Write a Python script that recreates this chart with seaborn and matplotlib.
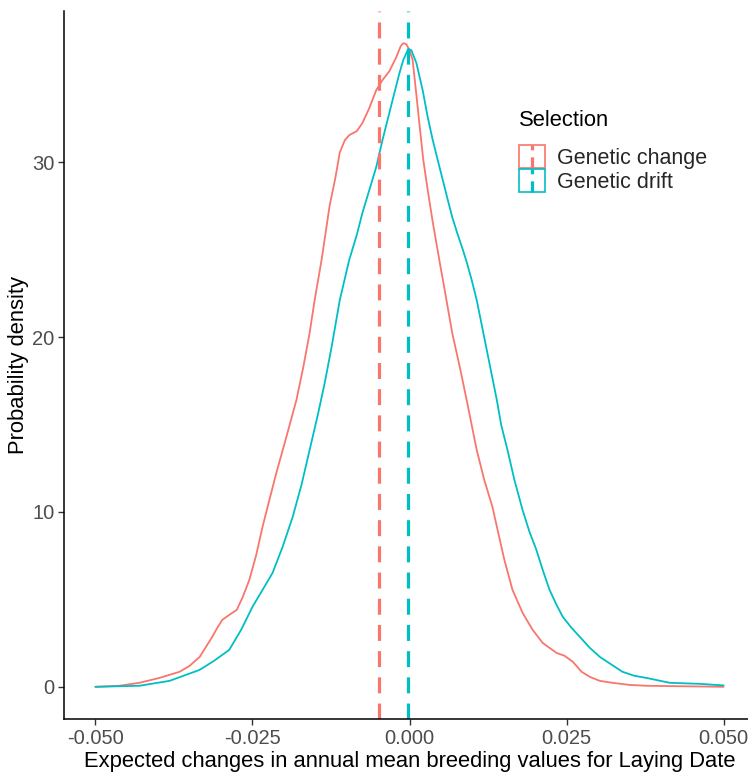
import numpy as np
import pandas as pd
import matplotlib
matplotlib.use("Agg")
import matplotlib.pyplot as plt
import seaborn as sns
from matplotlib.legend_handler import HandlerBase
from matplotlib.patches import Rectangle
from matplotlib.lines import Line2D

# ---- data ----
groups = ["Genetic change", "Genetic drift"]
colors = ["#F8766D", "#00BFC4"]
means = [-0.0048, -0.0002]

change_x = [-0.0500, -0.0462, -0.0430, -0.0398, -0.0366, -0.0350, -0.0334, -0.0315, -0.0306,
            -0.0298, -0.0287, -0.0275, -0.0266, -0.0255, -0.0244, -0.0234, -0.0223, -0.0212,
            -0.0196, -0.0180, -0.0169, -0.0159, -0.0151, -0.0140, -0.0127, -0.0118, -0.0111,
            -0.0103, -0.0096, -0.0084, -0.0075, -0.0064, -0.0053, -0.0043, -0.0032, -0.0021, -0.0014,
            -0.0010, -0.0005, 0.0000, 0.0005, 0.0011, 0.0016, 0.0022, 0.0029, 0.0037,
            0.0048, 0.0056, 0.0068, 0.0080, 0.0091, 0.0107, 0.0119, 0.0132, 0.0142,
            0.0151, 0.0164, 0.0180, 0.0196, 0.0212, 0.0234, 0.0247, 0.0260, 0.0274,
            0.0287, 0.0303, 0.0323, 0.0350, 0.0377, 0.0500]
change_y = [0.0, 0.06, 0.23, 0.51, 0.86, 1.2, 1.71, 2.8, 3.37,
            3.83, 4.11, 4.4, 5.09, 6.11, 7.54, 9.14, 10.69, 12.23,
            14.29, 16.4, 18.29, 20.23, 22.11, 24.4, 27.54, 29.1, 30.55,
            31.25, 31.54, 31.77, 32.23, 33.09, 34.11, 34.69, 35.2, 36.0, 36.63,
            36.8, 36.74, 36.4, 35.83, 33.83, 32.11, 30.11, 28.4, 26.57,
            24.29, 22.69, 20.23, 18.29, 16.4, 13.54, 11.83, 10.29, 8.69,
            7.26, 5.54, 4.23, 3.26, 2.51, 1.94, 1.77, 1.43, 0.86,
            0.57, 0.34, 0.23, 0.11, 0.06, 0.0]

drift_x = [-0.0500, -0.0430, -0.0382, -0.0334, -0.0311, -0.0287, -0.0268, -0.0250, -0.0234,
           -0.0218, -0.0202, -0.0186, -0.0172, -0.0159, -0.0146, -0.0135, -0.0124, -0.0111,
           -0.0096, -0.0084, -0.0075, -0.0064, -0.0053, -0.0043, -0.0035, -0.0027, -0.0016,
           -0.0010, -0.0005, -0.0002, 0.0003, 0.0011, 0.0021, 0.0029, 0.0037, 0.0045,
           0.0053, 0.0061, 0.0068, 0.0076, 0.0084, 0.0091, 0.0099, 0.0107, 0.0115,
           0.0123, 0.0131, 0.0139, 0.0146, 0.0156, 0.0167, 0.0180, 0.0191, 0.0202,
           0.0212, 0.0223, 0.0234, 0.0244, 0.0258, 0.0271, 0.0287, 0.0303, 0.0322,
           0.0339, 0.0358, 0.0377, 0.0414, 0.0462, 0.0500]
drift_y = [0.0, 0.06, 0.34, 0.97, 1.49, 2.11, 3.26, 4.57, 5.54,
           6.51, 8.0, 9.71, 11.54, 13.54, 15.54, 17.37, 19.43, 22.11,
           24.4, 25.83, 27.09, 28.4, 29.71, 31.26, 32.4, 33.54, 35.09,
           35.83, 36.23, 36.46, 36.4, 35.66, 34.11, 32.57, 31.26, 30.11,
           28.97, 27.83, 26.86, 25.94, 25.09, 24.29, 23.26, 22.11, 20.69,
           19.26, 17.83, 16.4, 14.97, 13.54, 11.83, 10.11, 8.86, 7.83,
           6.69, 5.54, 4.69, 4.0, 3.37, 2.86, 2.23, 1.71, 1.26,
           0.86, 0.63, 0.51, 0.23, 0.17, 0.08]

x_ticks = [-0.050, -0.025, 0.000, 0.025, 0.050]
x_tick_labels = ["-0.050", "-0.025", "0.000", "0.025", "0.050"]
y_ticks = [0, 10, 20, 30]
y_tick_labels = ["0", "10", "20", "30"]

df = pd.DataFrame({
    "x": change_x + drift_x,
    "density": change_y + drift_y,
    "Selection": [groups[0]] * len(change_x) + [groups[1]] * len(drift_x),
})

# ---- style ----
sns.set_theme(style="white")
plt.rcParams["font.family"] = ["Liberation Sans", "DejaVu Sans"]

W, H = 748, 772
fig = plt.figure(figsize=(W / 100, H / 100), dpi=100)
left, right, top, bottom = 64, 755, 11, 719
ax = fig.add_axes([left / W, 1 - bottom / H, (right - left) / W, (bottom - top) / H])

sns.lineplot(data=df, x="x", y="density", hue="Selection", palette=dict(zip(groups, colors)),
             estimator=None, sort=True, lw=1.3, legend=False, ax=ax)

for m, c in zip(means, colors):
    ax.axvline(m, color=c, lw=2.3, ls=(0, (5, 3.2)))

ax.set_xlim(-0.055, 0.055)
ax.set_ylim(-1.84, 38.64)
ax.set_xticks(x_ticks)
ax.set_xticklabels(x_tick_labels)
ax.set_yticks(y_ticks)
ax.set_yticklabels(y_tick_labels)

for s in ["top", "right"]:
    ax.spines[s].set_visible(False)
for s in ["left", "bottom"]:
    ax.spines[s].set_color("black")
    ax.spines[s].set_linewidth(1.1)

ax.tick_params(axis="both", which="major", length=4, width=1.0, color="#333333",
               labelcolor="#4D4D4D", labelsize=14.5, pad=3, bottom=True, left=True)

ax.set_xlabel("Expected changes in annual mean breeding values for Laying Date",
              fontsize=15.8, color="black", labelpad=2)
ax.set_ylabel("Probability density", fontsize=15.8, color="black", labelpad=2)


class VKeyHandler(HandlerBase):
    def create_artists(self, legend, orig_handle, xdescent, ydescent, width, height, fontsize, trans):
        c = orig_handle.get_color()
        rect = Rectangle((-xdescent, -ydescent), width, height, facecolor="white",
                         edgecolor=c, lw=1.2, transform=trans)
        ln = Line2D([-xdescent + width / 2] * 2, [-ydescent, -ydescent + height],
                    color=c, lw=2.3, ls=(0, (3.5, 2.2)), transform=trans)
        return [rect, ln]


fig.text(519 / W, 1 - 121 / H, "Selection", fontsize=15.8, color="black",
         ha="left", va="center")
handles = [Line2D([], [], color=c) for c in colors]
leg = fig.legend(handles, groups, loc="upper left",
                 bbox_to_anchor=(519 / W, 1 - 145 / H), frameon=False,
                 fontsize=15.5, handlelength=1.2, handleheight=1.27,
                 labelspacing=0.0, handletextpad=0.55, borderpad=0, borderaxespad=0,
                 handler_map={Line2D: VKeyHandler()})

fig.savefig("out.png", dpi=100)
